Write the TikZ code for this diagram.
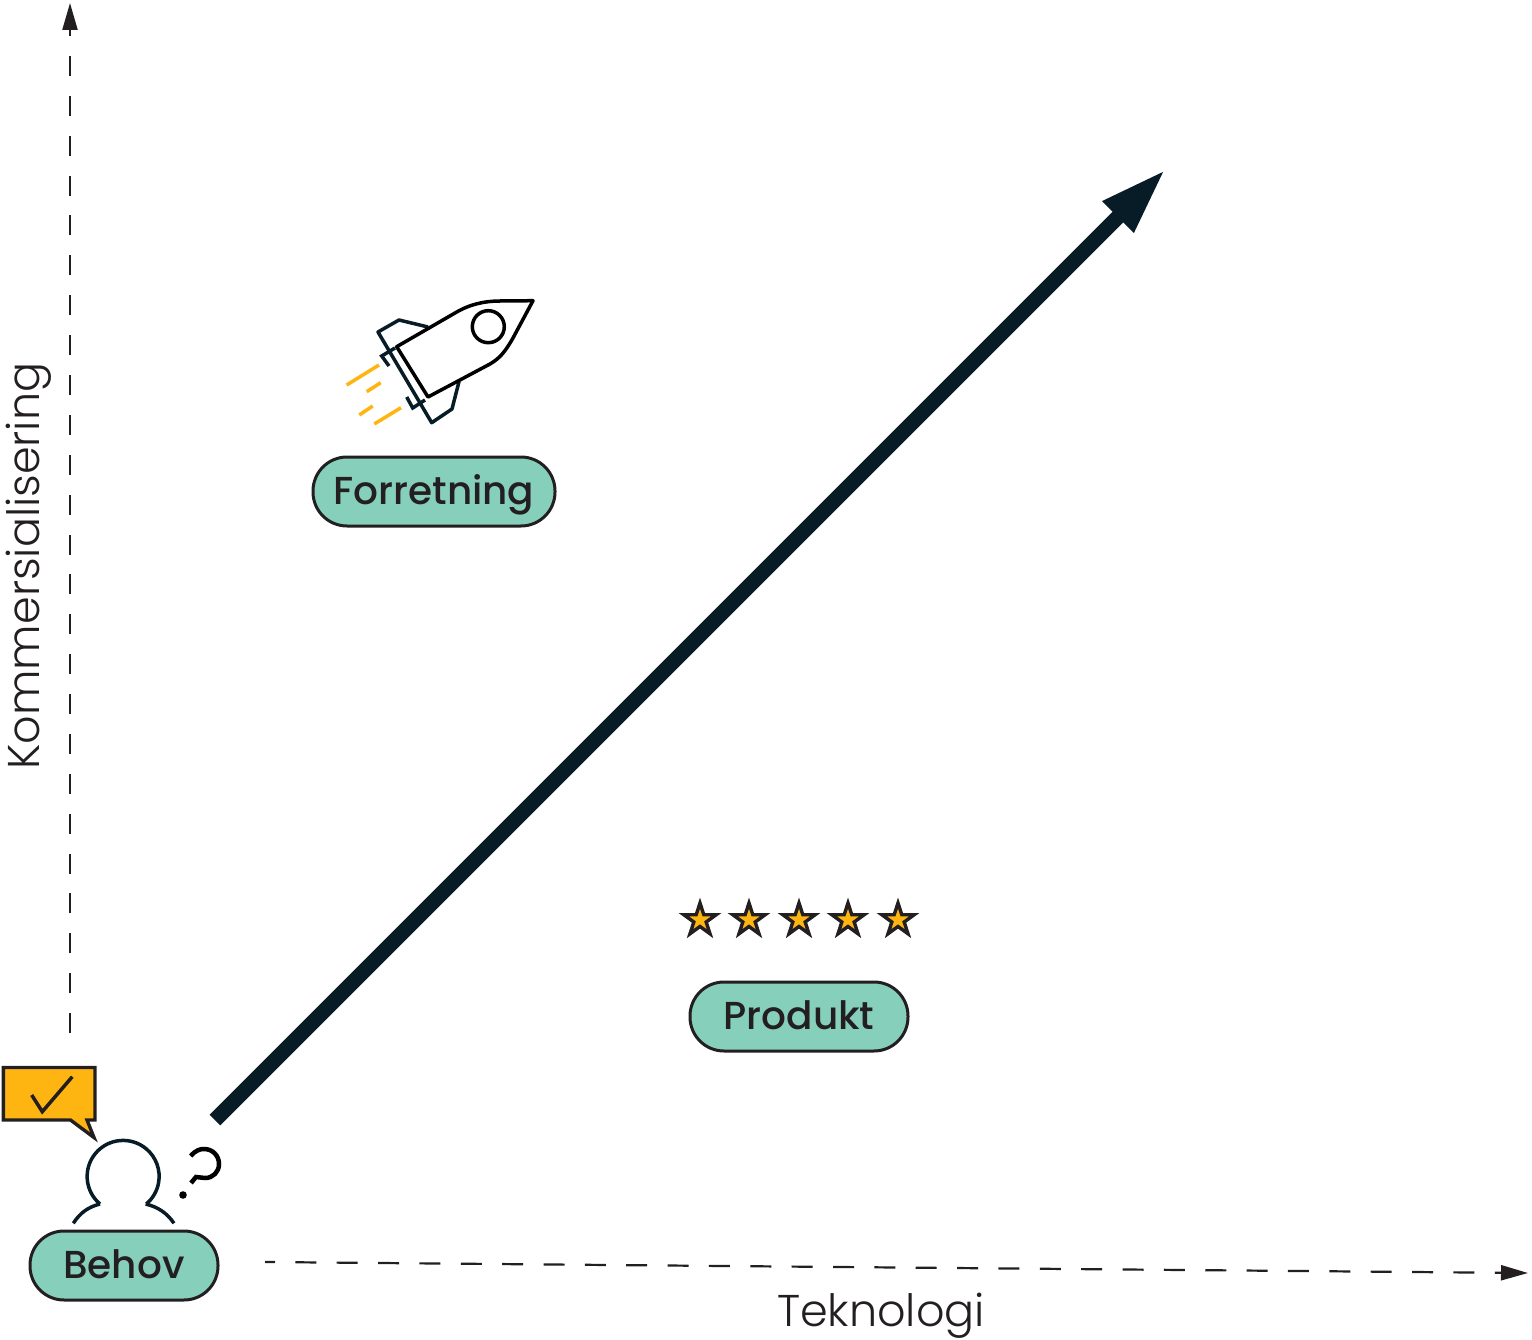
\documentclass[tikz,border=0pt]{standalone}
\usepackage{fontspec}
\usepackage{tikz}
\usepackage{xcolor}
\usetikzlibrary{positioning, arrows.meta, shapes.geometric}
\setmainfont{Poppins}
\newfontfamily\pillfont{Poppins Medium}
\newfontfamily\axisfont{Poppins Light}
\definecolor{Ink}{HTML}{071C26}
\definecolor{Outline}{HTML}{231F20}
\definecolor{Mint}{HTML}{85CFBB}
\definecolor{Amber}{HTML}{FFB511}

\begin{document}
\begin{tikzpicture}[
  x=1pt, y=-1pt,
  pill/.style={draw=Outline, fill=Mint, line width=3pt, rounded corners=34pt,
    minimum height=69pt, inner sep=0pt, font=\pillfont\fontsize{39}{39}\selectfont,
    text=Outline, text height=26.5pt, text depth=0pt},
  axislabel/.style={text=Outline, inner sep=0pt, font=\axisfont\fontsize{44.5}{44.5}\selectfont},
  axisline/.style={-{Triangle[length=27pt, width=15pt]}, Outline, line width=2.2pt},
  mainarr/.style={-{Triangle[length=68pt, width=40pt]}, Ink, line width=15pt},
  icon/.style={Ink, line width=3.5pt},
  flame/.style={Amber, line width=3.5pt},
  staricon/.style={star, star points=5, star point ratio=2.618, draw=Outline, fill=Amber,
    line width=3.4pt, miter limit=10, minimum size=34pt, inner sep=0pt}
]
  \useasboundingbox (0,0) rectangle (1532,1340);

  % Labels
  \node[pill, minimum width=242pt] (forretning) at (434,491.5) {Forretning};
  \node[pill, minimum width=218pt] (produkt) at (799,1016.5) {Produkt};
  \node[pill, minimum width=188pt] (behov) at (124,1265.5) {Behov};
  \node[axislabel] (teknologi) at (881,1316) {Teknologi};
  \node[axislabel, rotate=90] (kommers) at (29,566) {Kommersialisering};

  % Axes
  \coordinate (ybase) at (70,1033);
  \coordinate (ytip) at (70,3);
  \coordinate (xbase) at (265,1262);
  \coordinate (xtip) at (1528,1273);
  \draw[axisline, dash pattern=on 20pt off 19.875pt] (ybase) -- (ytip);
  \draw[axisline, dash pattern=on 21pt off 20.36pt, dash phase=11pt] (xbase) -- (xtip);

  % Main arrow
  \coordinate (arrbase) at (215,1120);
  \coordinate (arrtip) at (1166,169);
  \draw[mainarr] (arrbase) -- (arrtip);

  % Rocket
  \draw[icon, line join=round] (428,327) -- (399,320) -- (378,332) -- (431.7,422.7) -- (452,409) -- (459,381.7);
  \draw[icon] (389,366) -- (381.7,356) -- (395,348);
  \draw[icon] (406.7,397) -- (412.7,408) -- (425,400);
  \draw[black, line width=3.5pt, line join=round] (396.7,346.7) -- (455,313)
    .. controls (470,304) and (485,301) .. (500,301) -- (533,300.7)
    -- (513,338) .. controls (505,352) and (500,358) .. (490,364) -- (428,397) -- cycle;
  \node[draw=black, line width=3.5pt, circle, minimum size=32pt, inner sep=0pt] (window) at (488.3,326.7) {};
  \draw[flame] (346.7,385) -- (379,365);
  \draw[flame] (366.7,391.7) -- (380.7,382.7);
  \draw[flame] (359.3,415) -- (372.7,406);
  \draw[flame] (374.3,424) -- (401,407.7);

  % Stars
  \foreach \sx/\sname in {700/a, 749/b, 799/c, 848/d, 898/e}
    \node[staricon] (star\sname) at (\sx,920) {};

  % Speech bubble
  \draw[Outline, fill=Amber, line width=3.4pt] (3.3,1067.5) -- (95,1067.5) -- (95,1120) -- (87,1120)
    -- (94,1137.5) -- (70.5,1120) -- (3.3,1120) -- cycle;
  \draw[Outline, line width=3.5pt] (31.7,1095) -- (42.3,1111.7) -- (72.3,1076.7);

  % Person
  \draw[icon] (100,1204) arc[start angle=130, end angle=410, radius=36];
  \draw[icon] (100,1204) .. controls (88,1207) and (80,1213) .. (73.3,1223.3);
  \draw[icon] (145.7,1204) .. controls (158,1207) and (167,1213) .. (174,1223.3);

  % Question mark
  \draw[black, line width=4.5pt] (190.7,1156) .. controls (196,1150) and (200,1149) .. (204,1149)
    .. controls (213,1149) and (219,1156) .. (219,1164)
    .. controls (219,1172) and (213,1178) .. (205,1178) -- (196,1177) -- (191,1183);
  \fill[black] (183,1195) circle[radius=3.8];
\end{tikzpicture}
\end{document}
